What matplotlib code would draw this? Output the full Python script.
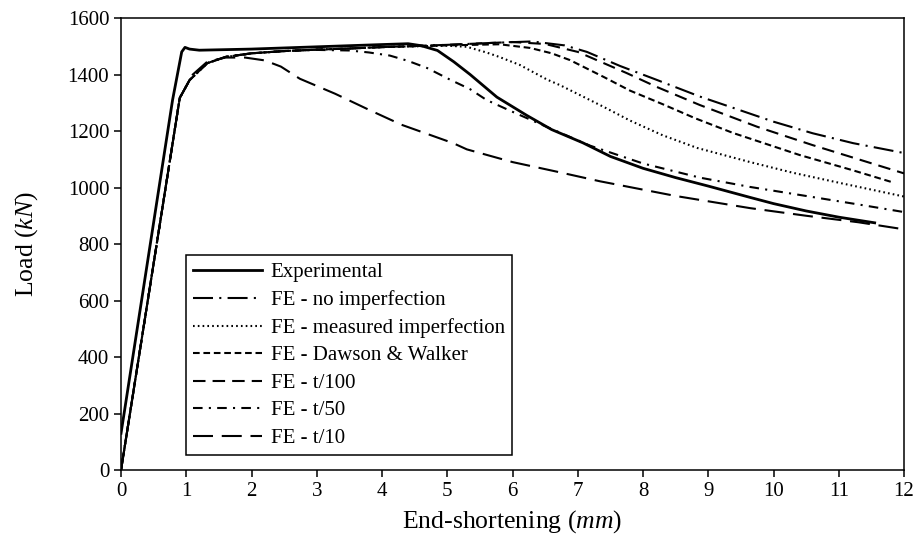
import matplotlib
matplotlib.use("Agg")
import matplotlib.pyplot as plt

plt.rcParams['font.family'] = ['Liberation Serif', 'DejaVu Serif']
plt.rcParams['mathtext.fontset'] = 'custom'
plt.rcParams['mathtext.rm'] = 'Liberation Serif'
plt.rcParams['mathtext.it'] = 'Liberation Serif:italic'

# ---- data ----
exp_x = [0, 0.79, 0.93, 0.98, 1.05, 1.2, 2, 3, 4, 4.4, 4.6, 4.85, 5.1, 5.35, 5.76, 6.22,
         6.6, 7.08, 7.5, 8, 8.5, 9, 9.64, 10, 10.5, 11, 11.55]
exp_y = [130, 1310, 1480, 1496, 1490, 1486, 1490, 1498, 1506, 1509, 1502, 1485, 1445, 1400,
         1320, 1255, 1205, 1158, 1110, 1068, 1035, 1005, 965, 943, 917, 895, 875]

noimp_x = [0, 0.9, 1.05, 1.32, 1.6, 2, 2.5, 3, 3.5, 4, 5, 5.7, 6.3, 6.8, 7.14, 7.65, 8.21,
           8.87, 9.38, 10, 10.6, 11.22, 12]
noimp_y = [0, 1317, 1380, 1440, 1462, 1475, 1483, 1488, 1492, 1497, 1505, 1512, 1517, 1503,
           1480, 1430, 1381, 1322, 1282, 1233, 1192, 1157, 1122]

meas_x = [0, 0.9, 1.05, 1.32, 1.6, 2, 2.5, 3, 3.5, 4, 4.58, 5, 5.3, 5.6, 5.8, 6.11, 6.53,
          6.73, 7.4, 7.8, 8.3, 8.83, 9.64, 10.3, 11.02, 12]
meas_y = [0, 1317, 1380, 1440, 1462, 1475, 1483, 1488, 1492, 1497, 1500, 1502, 1498, 1478,
          1462, 1434, 1382, 1362, 1285, 1237, 1185, 1140, 1090, 1052, 1016, 968]

dw_x = [0, 0.9, 1.05, 1.32, 1.6, 2, 2.5, 3, 3.5, 4, 5, 5.8, 6.27, 6.6, 6.88, 7.4, 7.8, 8.3,
        8.8, 9.38, 10.4, 11.2, 11.83]
dw_y = [0, 1317, 1380, 1440, 1462, 1475, 1483, 1488, 1492, 1497, 1503, 1507, 1494, 1475,
        1451, 1391, 1343, 1295, 1245, 1193, 1115, 1062, 1018]

t100_x = [0, 0.9, 1.05, 1.32, 1.6, 2, 2.5, 3, 3.5, 4, 5, 6.0, 6.5, 7.0, 7.75, 8.2, 8.87,
          9.75, 10.6, 12]
t100_y = [0, 1317, 1380, 1440, 1462, 1475, 1483, 1488, 1492, 1497, 1505, 1515, 1508, 1480,
          1405, 1357, 1292, 1215, 1150, 1050]

t50_x = [0, 0.9, 1.05, 1.32, 1.6, 2, 2.5, 3, 3.5, 3.8, 4.12, 4.4, 4.69, 5.04, 5.35, 5.6,
         5.96, 6.53, 7.19, 8, 8.87, 9.64, 10.5, 11.3, 12]
t50_y = [0, 1317, 1380, 1440, 1462, 1475, 1483, 1487, 1485, 1478, 1467, 1448, 1423, 1382,
         1348, 1310, 1272, 1214, 1148, 1085, 1035, 1002, 970, 940, 913]

t10_x = [0, 0.9, 1.1, 1.32, 1.6, 1.9, 2.2, 2.45, 2.74, 3.28, 3.8, 4.3, 5.09, 5.3, 6, 6.7,
         7.34, 8.5, 9.64, 10.5, 11.3, 12]
t10_y = [0, 1317, 1400, 1445, 1460, 1460, 1450, 1428, 1385, 1332, 1275, 1222, 1157, 1135,
         1090, 1055, 1022, 970, 927, 900, 877, 852]

labels = ["Experimental", "FE - no imperfection", "FE - measured imperfection",
          "FE - Dawson & Walker", "FE - t/100", "FE - t/50", "FE - t/10"]
x_ticks = list(range(0, 13))
y_ticks = list(range(0, 1601, 200))

# ---- figure ----
fig = plt.figure(figsize=(9.19, 5.59), dpi=100)
ax = fig.add_axes([0.1317, 0.1592, 0.852, 0.8086])

lw = 1.5
ax.plot(exp_x, exp_y, color='black', lw=2.0, linestyle='-', label=labels[0])
ax.plot(noimp_x, noimp_y, color='black', lw=lw, linestyle=(0, (9.6, 3, 1, 3)), label=labels[1])
ax.plot(meas_x, meas_y, color='black', lw=lw, linestyle=(0, (0.8, 1.5)), label=labels[2])
ax.plot(dw_x, dw_y, color='black', lw=lw, linestyle=(0, (3.2, 1.8)), label=labels[3])
ax.plot(t100_x, t100_y, color='black', lw=lw, linestyle=(0, (6.0, 3.4)), label=labels[4])
ax.plot(t50_x, t50_y, color='black', lw=lw, linestyle=(0, (4.6, 3, 1, 3)), label=labels[5])
ax.plot(t10_x, t10_y, color='black', lw=lw, linestyle=(0, (9.6, 4.2)), label=labels[6])

ax.set_xlim(0, 12)
ax.set_ylim(0, 1600)
ax.set_xticks(x_ticks)
ax.set_yticks(y_ticks)
ax.tick_params(direction='out', length=5, width=1.1, labelsize=15, colors='black')
for s in ax.spines.values():
    s.set_linewidth(1.1)
    s.set_color('black')

ax.set_xlabel("End-shortening ($mm$)", fontsize=18.5, labelpad=5)
ax.set_ylabel("Load ($kN$)", fontsize=18.5, labelpad=20)

leg = ax.legend(loc='lower left', bbox_to_anchor=(0.083, 0.033), fontsize=15,
                frameon=True, fancybox=False, edgecolor='black', framealpha=1,
                handlelength=3.3, handletextpad=0.42, labelspacing=0.38,
                borderpad=0.35, borderaxespad=0)
leg.get_frame().set_linewidth(1.1)

fig.savefig("out.png", dpi=100)
